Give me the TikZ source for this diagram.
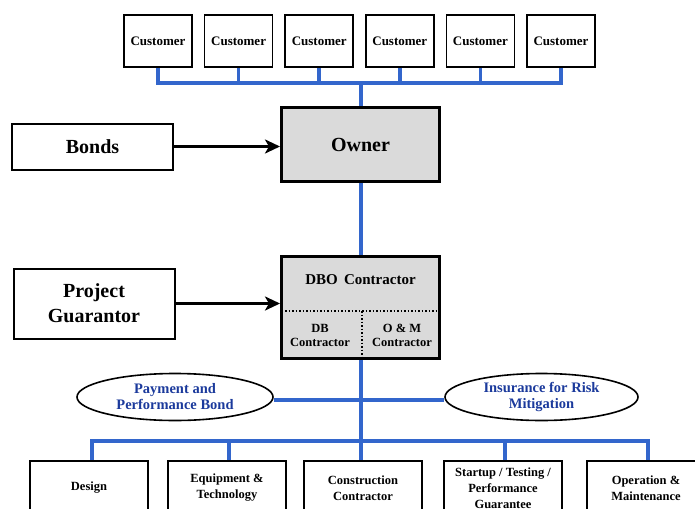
\documentclass[tikz,border=0pt]{standalone}
\usepackage{fontspec}
\setmainfont{Liberation Serif}
\usepackage{xcolor}
\usepackage{tikz}
\usetikzlibrary{shapes.geometric, arrows, arrows.meta, positioning, calc}
\definecolor{linkblue}{HTML}{3366CC}
\definecolor{labelblue}{HTML}{1B3A9C}
\definecolor{boxgray}{HTML}{DADADA}
\tikzstyle{custbox} = [rectangle, minimum width=68pt, minimum height=52pt, draw=black, line width=1.6pt, font=\bfseries\fontsize{13}{14}\selectfont, text centered]
\tikzstyle{sidebox} = [rectangle, minimum width=161pt, draw=black, line width=2pt, font=\bfseries\fontsize{20}{25}\selectfont, align=center]
\tikzstyle{mainbox} = [rectangle, minimum width=158pt, draw=black, line width=3pt, fill=boxgray]
\tikzstyle{taskbox} = [rectangle, minimum width=118pt, minimum height=54pt, draw=black, line width=1.8pt, font=\bfseries\fontsize{12.5}{16}\selectfont, align=center]
\tikzstyle{bubble} = [ellipse, draw=black, line width=1.6pt, fill=white, text=labelblue, font=\bfseries\fontsize{14.5}{16}\selectfont, align=center, inner sep=0pt]
\tikzstyle{link} = [linkblue, line width=3.6pt]
\tikzstyle{arrow} = [line width=3pt,-{Stealth[length=15pt,width=14pt,inset=4pt]}]

\begin{document}
\begin{tikzpicture}[x=1pt, y=-1pt, node distance=80.6pt]
\useasboundingbox (0,0) rectangle (695,508);
% Customers
\node (cust1) [custbox] at (158,41) {Customer};
\node (cust2) [custbox, right of=cust1] {Customer};
\node (cust3) [custbox, right of=cust2] {Customer};
\node (cust4) [custbox, right of=cust3] {Customer};
\node (cust5) [custbox, right of=cust4] {Customer};
\node (cust6) [custbox, right of=cust5] {Customer};

% Owner and contractor
\node (owner) [mainbox, minimum height=74pt, font=\bfseries\fontsize{20}{21}\selectfont] at (360.5,144.5) {Owner};
\node (bonds) [sidebox, minimum height=46pt] at (92.5,146.5) {Bonds};
\node (dbo) [mainbox, minimum height=102pt] at (360.5,307.5) {};
\node (dbotitle) [font=\bfseries\fontsize{15}{16}\selectfont] at (360.5,280) {DBO\ \,Contractor};
\node (dbpart) [font=\bfseries\fontsize{12.5}{14}\selectfont, align=center] at (320,335) {DB\\Contractor};
\node (ompart) [font=\bfseries\fontsize{12.5}{14}\selectfont, align=center] at (402,335) {O \& M\\Contractor};
\node (guarantor) [sidebox, minimum height=70pt] at (94,303.5) {Project\\Guarantor};

% Bonds and insurance
\node (payment) [bubble, minimum width=196pt, minimum height=47pt] at (175,397) {Payment and\\Performance Bond};
\node (insurance) [bubble, minimum width=193pt, minimum height=47pt] at (541.5,397) {Insurance for Risk\\Mitigation};

% Tasks
\node (design) [taskbox] at (89,488) {Design};
\node (equipment) [taskbox] at (227,488) {Equipment \&\\Technology};
\node (construction) [taskbox] at (363,488) {Construction\\Contractor};
\node (startup) [taskbox] at (503,488) {Startup / Testing /\\Performance\\Guarantee};
\node (operation) [taskbox] at (646,488) {Operation \&\\Maintenance};

% Connectors
\coordinate (topbus) at (361,83);
\coordinate (botbus) at (361,441);
\draw [link] (cust1.south) -- (cust1.south |- topbus) -- (cust6.south |- topbus) -- (cust6.south);
\draw [link] (cust2.south) -- (cust2.south |- topbus);
\draw [link] (cust3.south) -- (cust3.south |- topbus);
\draw [link] (cust4.south) -- (cust4.south |- topbus);
\draw [link] (cust5.south) -- (cust5.south |- topbus);
\draw [link] (topbus) -- (owner.north -| topbus);
\draw [link] (owner.south -| topbus) -- (dbo.north -| topbus);
\draw [link] (payment.east |- 0,400) -- (insurance.west |- 0,400);
\draw [link] (dbo.south -| botbus) -- (construction.north -| botbus);
\draw [link] (design.north -| 92,0) -- (92,441) -- (648,441) -- (operation.north -| 648,0);
\draw [link] (equipment.north -| 229,0) -- (229,441);
\draw [link] (startup.north -| 505,0) -- (505,441);
\draw [arrow] (bonds.east) -- (bonds.east -| owner.west);
\draw [arrow] (guarantor.east) -- (guarantor.east -| dbo.west);

% Split of the DBO box
\draw [dotted, line width=1.5pt] ($(dbo.west |- 0,311)+(1.5,0)$) -- ($(dbo.east |- 0,311)-(1.5,0)$);
\draw [dotted, line width=1.5pt] (362,311) -- ($(dbo.south -| 362,0)-(0,1.5)$);
\end{tikzpicture}
\end{document}
